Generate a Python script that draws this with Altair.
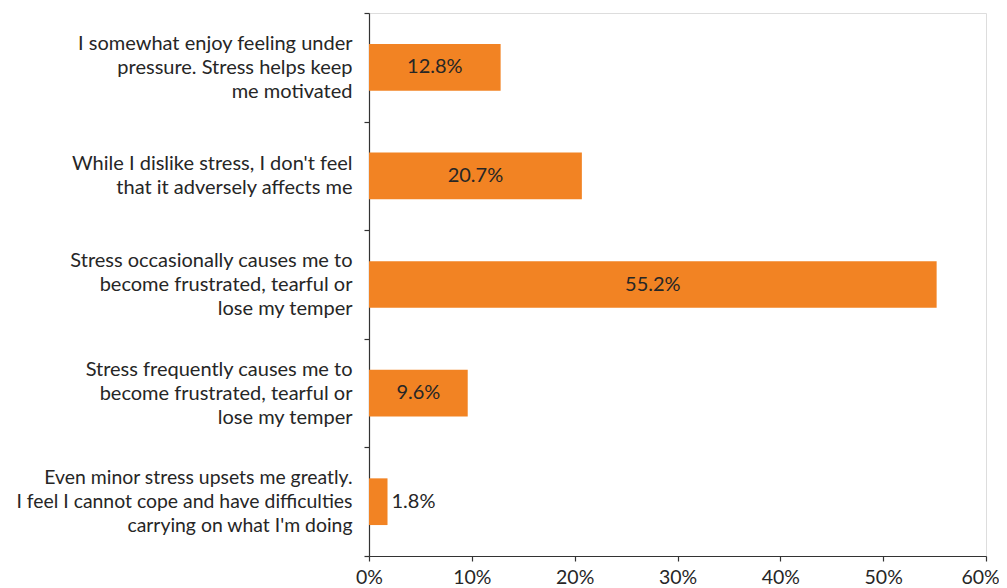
import altair as alt
import pandas as pd

categories = [
    "I somewhat enjoy feeling under|pressure. Stress helps keep|me motivated",
    "While I dislike stress, I don't feel|that it adversely affects me",
    "Stress occasionally causes me to|become frustrated, tearful or|lose my temper",
    "Stress frequently causes me to|become frustrated, tearful or|lose my temper",
    "Even minor stress upsets me greatly.|I feel I cannot cope and have difficulties|carrying on what I'm doing",
]
values = [12.8, 20.7, 55.2, 9.6, 1.8]
x_ticks = [0, 10, 20, 30, 40, 50, 60]

df = pd.DataFrame({"cat": categories, "value": values})
df["label"] = [f"{v:.1f}%" for v in values]

FONT = "Lato"
ORANGE = "#F28323"
TXT = "#262626"
AX = "#333333"

y_enc = alt.Y(
    "cat:N",
    sort=categories,
    scale=alt.Scale(paddingInner=0, paddingOuter=0),
    axis=alt.Axis(
        title=None,
        labelExpr="split(datum.label, '|')",
        labelFont=FONT,
        labelFontSize={
            "condition": {"test": "indexof(datum.label, 'difficulties') >= 0", "value": 19.4},
            "value": 20,
        },
        labelColor=TXT,
        labelLineHeight=24,
        labelPadding=12,
        labelLimit=400,
        labelOffset={
            "condition": {"test": "length(split(datum.label, '|')) == 3", "value": -24},
            "value": -12,
        },
        tickBand="extent",
        tickSize=5,
        tickColor=AX,
        domainColor=AX,
        domainWidth=1.2,
        tickWidth=1.2,
    ),
)
x_enc = alt.X(
    "value:Q",
    scale=alt.Scale(domain=[0, 60], nice=False),
    axis=alt.Axis(
        title=None,
        values=x_ticks,
        labelExpr="datum.value + '%'",
        labelFont=FONT,
        labelFontSize=19.5,
        labelColor=TXT,
        labelPadding=7,
        labelOffset={
            "condition": {"test": "datum.value == 60", "value": -6},
            "value": 0,
        },
        tickSize=5,
        tickColor=AX,
        domainColor=AX,
        domainWidth=1.2,
        tickWidth=1.2,
        grid=False,
        labelFlush=False,
    ),
)

bars = alt.Chart(df).mark_bar(color=ORANGE, height=alt.RelativeBandSize(0.43)).encode(
    y=y_enc, x=x_enc
)

inside = (
    alt.Chart(df)
    .transform_filter("datum.value >= 5")
    .transform_calculate(mid="datum.value / 2")
    .mark_text(font=FONT, fontSize=20, color=TXT, align="center", baseline="middle")
    .encode(y=alt.Y("cat:N", sort=categories), x=alt.X("mid:Q"), text="label:N")
)
outside = (
    alt.Chart(df)
    .transform_filter("datum.value < 5")
    .mark_text(font=FONT, fontSize=20, color=TXT, align="left", baseline="middle", dx=4)
    .encode(y=alt.Y("cat:N", sort=categories), x=alt.X("value:Q"), text="label:N")
)

chart = (
    alt.layer(bars, inside, outside)
    .properties(
        width=617,
        height=543,
        autosize=alt.AutoSizeParams(type="none"),
        padding={"left": 361, "top": 5, "right": 13, "bottom": 30},
    )
    .configure_view(stroke=None)
    .configure(background="white")
)

chart.save("out.html", embed_options={"renderer": "svg", "actions": False})
